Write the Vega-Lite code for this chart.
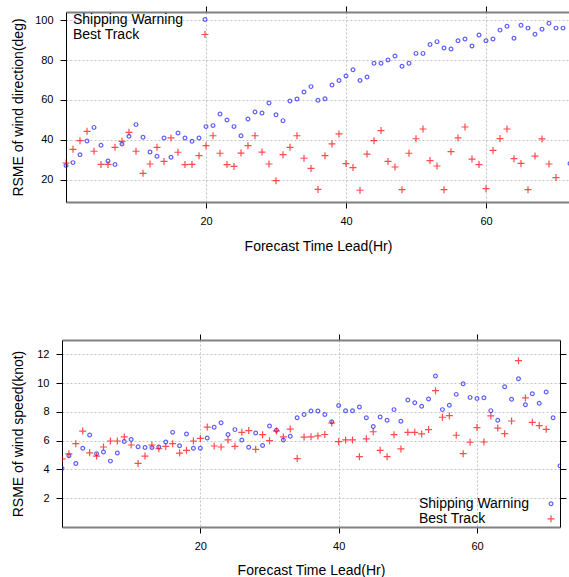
{
  "$schema": "https://vega.github.io/schema/vega-lite/v6.json",
  "background": "white",
  "padding": {"left": 11, "top": 5, "right": 0, "bottom": 0},
  "config": {
    "font": "Liberation Sans",
    "view": {"stroke": null},
    "axis": {
      "labelFont": "Liberation Sans", "labelFontSize": 11, "labelColor": "#000",
      "titleFont": "Liberation Sans", "titleFontSize": 14, "titleFontWeight": "normal", "titleColor": "#000",
      "tickColor": "#000", "tickSize": 6, "tickWidth": 1, "labelPadding": 7,
      "gridColor": "#c4c4c4", "gridDash": [2, 2], "gridWidth": 1
    },
    "legend": {"labelFont": "Liberation Sans", "labelFontSize": 14, "labelColor": "#000"}
  },
  "datasets": {
    "dir": [
      {"hr": 0, "Shipping Warning": 27.1, "Best Track": 28.3},
      {"hr": 1, "Shipping Warning": 28.5, "Best Track": 35.2},
      {"hr": 2, "Shipping Warning": 32.5, "Best Track": 39.5},
      {"hr": 3, "Shipping Warning": 39.4, "Best Track": 44.2},
      {"hr": 4, "Shipping Warning": 46.2, "Best Track": 34.2},
      {"hr": 5, "Shipping Warning": 37.2, "Best Track": 27.6},
      {"hr": 6, "Shipping Warning": 29.3, "Best Track": 27.6},
      {"hr": 7, "Shipping Warning": 27.6, "Best Track": 36.2},
      {"hr": 8, "Shipping Warning": 37.9, "Best Track": 39.2},
      {"hr": 9, "Shipping Warning": 41.7, "Best Track": 43.7},
      {"hr": 10, "Shipping Warning": 47.6, "Best Track": 34.2},
      {"hr": 11, "Shipping Warning": 41.2, "Best Track": 23.1},
      {"hr": 12, "Shipping Warning": 33.8, "Best Track": 27.8},
      {"hr": 13, "Shipping Warning": 31.7, "Best Track": 36.2},
      {"hr": 14, "Shipping Warning": 40.9, "Best Track": 29.1},
      {"hr": 15, "Shipping Warning": 31.2, "Best Track": 40.9},
      {"hr": 16, "Shipping Warning": 43.4, "Best Track": 33.7},
      {"hr": 17, "Shipping Warning": 40.9, "Best Track": 27.5},
      {"hr": 18, "Shipping Warning": 39.2, "Best Track": 27.6},
      {"hr": 19, "Shipping Warning": 40.9, "Best Track": 32.0},
      {"hr": 20, "Shipping Warning": 46.6, "Best Track": 37.0},
      {"hr": 21, "Shipping Warning": 47.1, "Best Track": 42.0},
      {"hr": 22, "Shipping Warning": 52.9, "Best Track": 33.2},
      {"hr": 23, "Shipping Warning": 49.9, "Best Track": 27.5},
      {"hr": 24, "Shipping Warning": 46.6, "Best Track": 26.6},
      {"hr": 25, "Shipping Warning": 42.0, "Best Track": 33.3},
      {"hr": 26, "Shipping Warning": 50.4, "Best Track": 37.0},
      {"hr": 27, "Shipping Warning": 53.9, "Best Track": 42.0},
      {"hr": 28, "Shipping Warning": 53.4, "Best Track": 33.8},
      {"hr": 29, "Shipping Warning": 58.5, "Best Track": 27.8},
      {"hr": 30, "Shipping Warning": 52.6, "Best Track": 19.4},
      {"hr": 31, "Shipping Warning": 49.6, "Best Track": 32.5},
      {"hr": 32, "Shipping Warning": 59.5, "Best Track": 36.2},
      {"hr": 33, "Shipping Warning": 60.5, "Best Track": 42.0},
      {"hr": 34, "Shipping Warning": 64.0, "Best Track": 30.7},
      {"hr": 35, "Shipping Warning": 66.7, "Best Track": 25.6},
      {"hr": 36, "Shipping Warning": 59.8, "Best Track": 15.0},
      {"hr": 37, "Shipping Warning": 60.6, "Best Track": 32.0},
      {"hr": 38, "Shipping Warning": 67.5, "Best Track": 37.9},
      {"hr": 39, "Shipping Warning": 69.8, "Best Track": 42.9},
      {"hr": 40, "Shipping Warning": 72.0, "Best Track": 28.0},
      {"hr": 41, "Shipping Warning": 75.2, "Best Track": 26.0},
      {"hr": 42, "Shipping Warning": 69.8, "Best Track": 14.6},
      {"hr": 43, "Shipping Warning": 71.5, "Best Track": 32.8},
      {"hr": 44, "Shipping Warning": 78.4, "Best Track": 39.5},
      {"hr": 45, "Shipping Warning": 78.4, "Best Track": 44.6},
      {"hr": 46, "Shipping Warning": 80.1, "Best Track": 29.1},
      {"hr": 47, "Shipping Warning": 82.1, "Best Track": 26.3},
      {"hr": 48, "Shipping Warning": 76.9, "Best Track": 14.9},
      {"hr": 49, "Shipping Warning": 78.4, "Best Track": 33.2},
      {"hr": 50, "Shipping Warning": 83.4, "Best Track": 40.5},
      {"hr": 51, "Shipping Warning": 83.4, "Best Track": 45.4},
      {"hr": 52, "Shipping Warning": 87.9, "Best Track": 29.5},
      {"hr": 53, "Shipping Warning": 89.3, "Best Track": 26.8},
      {"hr": 54, "Shipping Warning": 86.1, "Best Track": 14.9},
      {"hr": 55, "Shipping Warning": 85.6, "Best Track": 34.0},
      {"hr": 56, "Shipping Warning": 89.8, "Best Track": 40.9},
      {"hr": 57, "Shipping Warning": 90.6, "Best Track": 46.4},
      {"hr": 58, "Shipping Warning": 87.1, "Best Track": 30.3},
      {"hr": 59, "Shipping Warning": 92.6, "Best Track": 27.5},
      {"hr": 60, "Shipping Warning": 89.8, "Best Track": 15.4},
      {"hr": 61, "Shipping Warning": 90.6, "Best Track": 34.6},
      {"hr": 62, "Shipping Warning": 95.1, "Best Track": 40.6},
      {"hr": 63, "Shipping Warning": 97.0, "Best Track": 45.4},
      {"hr": 64, "Shipping Warning": 91.0, "Best Track": 30.5},
      {"hr": 65, "Shipping Warning": 97.5, "Best Track": 28.1},
      {"hr": 66, "Shipping Warning": 96.1, "Best Track": 14.9},
      {"hr": 67, "Shipping Warning": 93.0, "Best Track": 31.8},
      {"hr": 68, "Shipping Warning": 95.5, "Best Track": 40.4},
      {"hr": 69, "Shipping Warning": 98.5, "Best Track": 27.8},
      {"hr": 70, "Shipping Warning": 96.1, "Best Track": 21.0},
      {"hr": 71, "Shipping Warning": 96.1},
      {"hr": 72, "Shipping Warning": 28.0}
    ],
    "spd": [
      {"hr": 0, "Shipping Warning": 4.07, "Best Track": 4.73},
      {"hr": 1, "Shipping Warning": 4.95, "Best Track": 5.09},
      {"hr": 2, "Shipping Warning": 4.42, "Best Track": 5.79},
      {"hr": 3, "Shipping Warning": 5.47, "Best Track": 6.67},
      {"hr": 4, "Shipping Warning": 6.40, "Best Track": 5.16},
      {"hr": 5, "Shipping Warning": 5.09, "Best Track": 4.93},
      {"hr": 6, "Shipping Warning": 5.21, "Best Track": 5.56},
      {"hr": 7, "Shipping Warning": 4.58, "Best Track": 5.98},
      {"hr": 8, "Shipping Warning": 5.14, "Best Track": 5.98},
      {"hr": 9, "Shipping Warning": 5.95, "Best Track": 6.26},
      {"hr": 10, "Shipping Warning": 6.09, "Best Track": 5.70},
      {"hr": 11, "Shipping Warning": 5.58, "Best Track": 4.42},
      {"hr": 12, "Shipping Warning": 5.53, "Best Track": 4.93},
      {"hr": 13, "Shipping Warning": 5.53, "Best Track": 5.70},
      {"hr": 14, "Shipping Warning": 5.56, "Best Track": 5.44},
      {"hr": 15, "Shipping Warning": 5.91, "Best Track": 5.60},
      {"hr": 16, "Shipping Warning": 6.58, "Best Track": 5.79},
      {"hr": 17, "Shipping Warning": 5.65, "Best Track": 5.14},
      {"hr": 18, "Shipping Warning": 6.47, "Best Track": 5.33},
      {"hr": 19, "Shipping Warning": 5.47, "Best Track": 5.98},
      {"hr": 20, "Shipping Warning": 5.47, "Best Track": 6.16},
      {"hr": 21, "Shipping Warning": 6.19, "Best Track": 6.95},
      {"hr": 22, "Shipping Warning": 6.93, "Best Track": 5.63},
      {"hr": 23, "Shipping Warning": 7.25, "Best Track": 5.56},
      {"hr": 24, "Shipping Warning": 6.43, "Best Track": 6.05},
      {"hr": 25, "Shipping Warning": 6.77, "Best Track": 5.61},
      {"hr": 26, "Shipping Warning": 6.05, "Best Track": 6.58},
      {"hr": 27, "Shipping Warning": 5.54, "Best Track": 6.70},
      {"hr": 28, "Shipping Warning": 6.54, "Best Track": 5.40},
      {"hr": 29, "Shipping Warning": 5.66, "Best Track": 6.42},
      {"hr": 30, "Shipping Warning": 7.02, "Best Track": 6.00},
      {"hr": 31, "Shipping Warning": 6.72, "Best Track": 6.68},
      {"hr": 32, "Shipping Warning": 6.05, "Best Track": 6.26},
      {"hr": 33, "Shipping Warning": 6.31, "Best Track": 6.81},
      {"hr": 34, "Shipping Warning": 7.59, "Best Track": 4.76},
      {"hr": 35, "Shipping Warning": 7.82, "Best Track": 6.25},
      {"hr": 36, "Shipping Warning": 8.07, "Best Track": 6.27},
      {"hr": 37, "Shipping Warning": 8.07, "Best Track": 6.33},
      {"hr": 38, "Shipping Warning": 7.82, "Best Track": 6.43},
      {"hr": 39, "Shipping Warning": 7.31, "Best Track": 7.23},
      {"hr": 40, "Shipping Warning": 8.44, "Best Track": 5.94},
      {"hr": 41, "Shipping Warning": 8.08, "Best Track": 6.05},
      {"hr": 42, "Shipping Warning": 8.08, "Best Track": 6.05},
      {"hr": 43, "Shipping Warning": 8.34, "Best Track": 4.89},
      {"hr": 44, "Shipping Warning": 7.60, "Best Track": 6.13},
      {"hr": 45, "Shipping Warning": 6.99, "Best Track": 6.62},
      {"hr": 46, "Shipping Warning": 7.65, "Best Track": 5.33},
      {"hr": 47, "Shipping Warning": 7.42, "Best Track": 4.89},
      {"hr": 48, "Shipping Warning": 8.16, "Best Track": 6.42},
      {"hr": 49, "Shipping Warning": 7.35, "Best Track": 5.43},
      {"hr": 50, "Shipping Warning": 8.83, "Best Track": 6.58},
      {"hr": 51, "Shipping Warning": 8.64, "Best Track": 6.58},
      {"hr": 52, "Shipping Warning": 8.39, "Best Track": 6.47},
      {"hr": 53, "Shipping Warning": 8.90, "Best Track": 6.77},
      {"hr": 54, "Shipping Warning": 10.50, "Best Track": 9.48},
      {"hr": 55, "Shipping Warning": 8.16, "Best Track": 7.63},
      {"hr": 56, "Shipping Warning": 8.46, "Best Track": 7.74},
      {"hr": 57, "Shipping Warning": 9.22, "Best Track": 6.38},
      {"hr": 58, "Shipping Warning": 9.96, "Best Track": 5.10},
      {"hr": 59, "Shipping Warning": 9.01, "Best Track": 5.89},
      {"hr": 60, "Shipping Warning": 8.94, "Best Track": 6.91},
      {"hr": 61, "Shipping Warning": 8.99, "Best Track": 5.91},
      {"hr": 62, "Shipping Warning": 8.09, "Best Track": 7.72},
      {"hr": 63, "Shipping Warning": 7.42, "Best Track": 6.88},
      {"hr": 64, "Shipping Warning": 9.75, "Best Track": 6.49},
      {"hr": 65, "Shipping Warning": 8.88, "Best Track": 7.37},
      {"hr": 66, "Shipping Warning": 10.31, "Best Track": 11.56},
      {"hr": 67, "Shipping Warning": 8.50, "Best Track": 8.97},
      {"hr": 68, "Shipping Warning": 9.27, "Best Track": 7.28},
      {"hr": 69, "Shipping Warning": 8.60, "Best Track": 7.05},
      {"hr": 70, "Shipping Warning": 9.38, "Best Track": 6.79},
      {"hr": 71, "Shipping Warning": 7.60},
      {"hr": 72, "Shipping Warning": 4.25}
    ]
  },
  "spacing": 80,
  "resolve": {
    "scale": {"color": "independent", "shape": "independent", "size": "independent"},
    "legend": {"color": "independent", "shape": "independent", "size": "independent"}
  },
  "vconcat": [
    {
      "width": 508,
      "height": 190,
      "data": {"name": "dir"},
      "transform": [
        {"fold": ["Shipping Warning", "Best Track"], "as": ["series", "value"]},
        {"filter": "isValid(datum.value)"}
      ],
      "layer": [
        {
          "mark": {"type": "point", "filled": false, "clip": true, "strokeWidth": 1.2},
          "encoding": {
            "x": {"field": "hr", "type": "quantitative",
              "scale": {"domain": [0, 72], "range": [4, 508], "nice": false, "zero": false},
              "axis": {"values": [20, 40, 60], "title": "Forecast Time Lead(Hr)", "grid": true,
                "domainColor": "#808080", "domainWidth": 2, "titlePadding": 13}},
            "y": {"field": "value", "type": "quantitative",
              "scale": {"domain": [8.7, 104.2], "nice": false, "zero": false},
              "axis": {"values": [20, 40, 60, 80, 100], "title": "RSME of wind direction(deg)", "grid": true,
                "offset": -4, "domainColor": "#000", "domainWidth": 1, "titlePadding": 9}},
            "color": {"field": "series", "type": "nominal",
              "scale": {"domain": ["Shipping Warning", "Best Track"], "range": ["#1a1aff", "#ff0000"]},
              "legend": {"title": null, "orient": "none", "legendX": 10, "legendY": 0.5, "padding": 0,
                "rowPadding": 1, "symbolStrokeWidth": 1.2, "symbolOffset": 126, "labelOffset": -139}},
            "shape": {"field": "series", "type": "nominal",
              "scale": {"domain": ["Shipping Warning", "Best Track"], "range": ["circle", "M-1,0H1M0,-1V1"]}},
            "size": {"field": "series", "type": "nominal",
              "scale": {"type": "ordinal", "domain": ["Shipping Warning", "Best Track"], "range": [14, 49]}}
          }
        },
        {
          "mark": {"type": "point", "opacity": 0},
          "encoding": {
            "x": {"field": "hr", "type": "quantitative",
              "axis": {"orient": "top", "values": [20, 40, 60], "labels": false, "grid": false, "title": null,
                "domainColor": "#808080", "domainWidth": 2}},
            "y": {"field": "value", "type": "quantitative",
              "axis": {"orient": "right", "values": [20, 40, 60, 80, 100], "labels": false, "grid": false, "title": null,
                "domainColor": "#000", "domainWidth": 1}}
          }
        }
      ],
      "resolve": {"axis": {"x": "independent", "y": "independent"}}
    },
    {
      "width": 498,
      "height": 187,
      "data": {"name": "spd"},
      "transform": [
        {"fold": ["Shipping Warning", "Best Track"], "as": ["series", "value"]},
        {"filter": "isValid(datum.value)"}
      ],
      "layer": [
        {
          "mark": {"type": "point", "filled": false, "clip": true, "strokeWidth": 1.2},
          "encoding": {
            "x": {"field": "hr", "type": "quantitative",
              "scale": {"domain": [0, 72], "nice": false, "zero": false},
              "axis": {"values": [20, 40, 60], "title": "Forecast Time Lead(Hr)", "grid": true,
                "domainColor": "#808080", "domainWidth": 2, "titlePadding": 12}},
            "y": {"field": "value", "type": "quantitative",
              "scale": {"domain": [0, 13], "nice": false, "zero": false},
              "axis": {"values": [2, 4, 6, 8, 10, 12], "title": "RSME of wind speed(knot)", "grid": true,
                "domainColor": "#000", "domainWidth": 1, "titlePadding": 11}},
            "color": {"field": "series", "type": "nominal",
              "scale": {"domain": ["Shipping Warning", "Best Track"], "range": ["#1a1aff", "#ff0000"]},
              "legend": {"title": null, "orient": "none", "legendX": 358, "legendY": 156.8, "padding": 0,
                "rowPadding": 1, "symbolStrokeWidth": 1.2, "symbolOffset": 124, "labelOffset": -139}},
            "shape": {"field": "series", "type": "nominal",
              "scale": {"domain": ["Shipping Warning", "Best Track"], "range": ["circle", "M-1,0H1M0,-1V1"]}},
            "size": {"field": "series", "type": "nominal",
              "scale": {"type": "ordinal", "domain": ["Shipping Warning", "Best Track"], "range": [14, 49]}}
          }
        },
        {
          "mark": {"type": "point", "opacity": 0},
          "encoding": {
            "x": {"field": "hr", "type": "quantitative",
              "axis": {"orient": "top", "values": [20, 40, 60], "labels": false, "grid": false, "title": null,
                "domainColor": "#808080", "domainWidth": 2}},
            "y": {"field": "value", "type": "quantitative",
              "axis": {"orient": "right", "values": [2, 4, 6, 8, 10, 12], "labels": false, "grid": false, "title": null,
                "domainColor": "#000", "domainWidth": 1}}
          }
        }
      ],
      "resolve": {"axis": {"x": "independent", "y": "independent"}}
    }
  ]
}
